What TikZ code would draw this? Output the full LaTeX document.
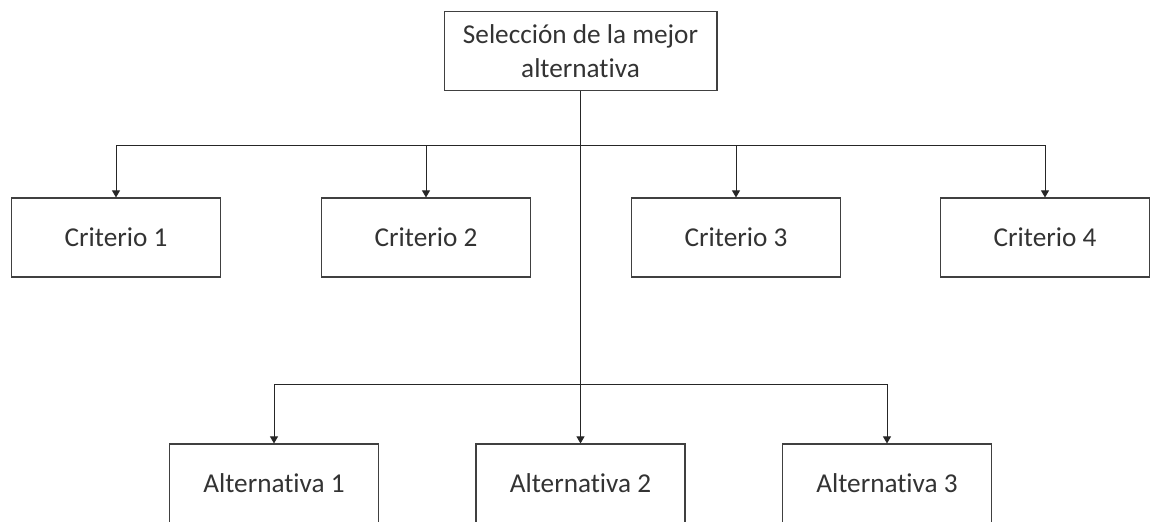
\documentclass[tikz,border=0pt]{standalone}
\usepackage{fontspec}
\setmainfont{Carlito}[Ligatures=NoCommon]
\usetikzlibrary{arrows.meta}

\tikzstyle{block} = [rectangle, minimum width=4.18cm, minimum height=1.58cm, text centered, draw=black!75, line width=0.6pt, fill=white, text=black!80, font=\fontsize{15.5}{19}\selectfont]
\tikzstyle{arrow} = [draw=black!85, line width=0.55pt, -{Triangle[length=4pt,width=4.5pt]}]

\begin{document}
\begin{tikzpicture}[x=0.02cm, y=-0.02cm]
	\path[use as bounding box, clip] (0,0) rectangle (1150,521);
	% Place nodes
	\node [block, minimum width=5.46cm, align=center] (Seleccion) at (580.5,51) {Selección de la mejor\\alternativa};
	\node [block] (Criterio1) at (116,237.5) {Criterio 1};
	\node [block] (Criterio2) at (426,237.5) {Criterio 2};
	\node [block] (Criterio3) at (736,237.5) {Criterio 3};
	\node [block] (Criterio4) at (1045,237.5) {Criterio 4};
	\node [block] (Alternativa1) at (274,483.5) {Alternativa 1};
	\node [block] (Alternativa2) at (580.5,483.5) {Alternativa 2};
	\node [block] (Alternativa3) at (887,483.5) {Alternativa 3};
	\coordinate (BusCriterios) at (580.5,145);
	\coordinate (BusAlternativas) at (580.5,384);
	% Draw edges
	\draw [arrow] (Seleccion.south) -- (Alternativa2.north);
	\draw [arrow] (BusCriterios) -| (Criterio1.north);
	\draw [arrow] (BusCriterios) -| (Criterio2.north);
	\draw [arrow] (BusCriterios) -| (Criterio3.north);
	\draw [arrow] (BusCriterios) -| (Criterio4.north);
	\draw [arrow] (BusAlternativas) -| (Alternativa1.north);
	\draw [arrow] (BusAlternativas) -| (Alternativa3.north);
\end{tikzpicture}
\end{document}
